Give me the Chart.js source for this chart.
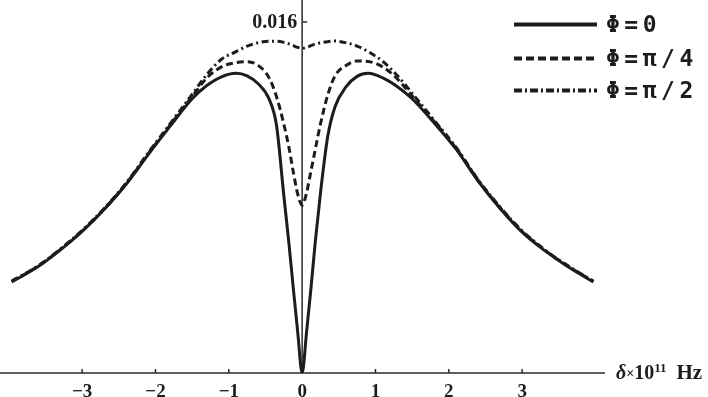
<!DOCTYPE html>
<html>
<head>
<meta charset="utf-8">
<script src="https://cdn.jsdelivr.net/npm/chart.js@4.4.1/dist/chart.umd.min.js"></script>
<style>
  html, body { margin: 0; padding: 0; background: #fff; }
  #wrap { width: 708px; height: 397px; position: relative; }
</style>
</head>
<body>
<div id="wrap"><canvas id="c" width="708" height="397"></canvas></div>
<script>
// ---- data ----
const deltaValues = [-3.96,-3.6,-3.3,-3.0,-2.7,-2.4,-2.1,-1.8,-1.5,-1.3,-1.1,-0.9,-0.75,-0.6,-0.45,-0.35,-0.25,-0.18,-0.12,-0.06,0,
                      0.06,0.12,0.18,0.25,0.35,0.45,0.6,0.75,0.9,1.1,1.3,1.5,1.8,2.1,2.4,2.7,3.0,3.3,3.6,3.97];
const phi0 = [0.00415,0.00485,0.00560,0.00645,0.00745,0.00860,0.00995,0.01125,0.01250,0.01310,0.01350,0.01366,0.01354,0.01318,0.01248,0.01130,0.00810,0.00590,0.00385,0.00185,0,
              0.00185,0.00385,0.00600,0.00820,0.01080,0.01215,0.01305,0.01352,0.01366,0.01345,0.01305,0.01250,0.01140,0.01020,0.00875,0.00750,0.00642,0.00560,0.00490,0.00415];
const phiQuarter = [0.00417,0.00487,0.00562,0.00647,0.00747,0.00863,0.00999,0.01130,0.01260,0.01345,0.01395,0.01415,0.01419,0.01402,0.01345,0.01260,0.01135,0.01028,0.00915,0.00815,0.00765,
                    0.00820,0.00920,0.01020,0.01135,0.01268,0.01355,0.01402,0.01422,0.01420,0.01395,0.01340,0.01262,0.01146,0.01024,0.00878,0.00753,0.00645,0.00562,0.00492,0.00417];
const phiHalf = [0.00419,0.00489,0.00564,0.00650,0.00750,0.00866,0.01003,0.01136,0.01270,0.01360,0.01430,0.01465,0.01490,0.01505,0.01512,0.01512,0.01507,0.01500,0.01492,0.01484,0.01480,
                 0.01484,0.01492,0.01500,0.01505,0.01510,0.01513,0.01505,0.01490,0.01465,0.01420,0.01355,0.01275,0.01152,0.01028,0.00881,0.00756,0.00648,0.00564,0.00494,0.00419];
const seriesLabels = ['Φ=0', 'Φ=π/4', 'Φ=π/2'];
const xTicks = [-3, -2, -1, 0, 1, 2, 3];
const yTicks = [0.016];

const INK = '#1c1c1c';
const dashes = [[], [7, 4], [7, 3.5, 2, 3.5]];
const legendDashes = [[], [8, 4], [8, 3, 2, 3]];

function pts(ys) { return deltaValues.map((d, i) => ({ x: d, y: ys[i] })); }

const axesPlugin = {
  id: 'customAxes',
  beforeDatasetsDraw(chart) {
    const { ctx, chartArea: a, scales: { x, y } } = chart;
    const x0 = x.getPixelForValue(0), y0 = y.getPixelForValue(0);
    ctx.save();
    ctx.strokeStyle = '#2a2a2a';
    ctx.lineWidth = 1.5;
    ctx.beginPath(); ctx.moveTo(a.left, y0); ctx.lineTo(a.right, y0); ctx.stroke();
    ctx.beginPath(); ctx.moveTo(x0, a.top); ctx.lineTo(x0, y0); ctx.stroke();
    ctx.fillStyle = INK;
    ctx.font = 'bold 19px "Liberation Serif"';
    ctx.textAlign = 'center';
    ctx.textBaseline = 'alphabetic';
    xTicks.forEach(t => {
      const px = x.getPixelForValue(t);
      if (t !== 0) { ctx.beginPath(); ctx.moveTo(px, y0); ctx.lineTo(px, y0 - 4); ctx.stroke(); }
      ctx.fillText(t < 0 ? '\u2212' + Math.abs(t) : String(t), px, y0 + 23.5);
    });
    ctx.font = 'bold 20px "Liberation Serif"';
    ctx.textAlign = 'right';
    yTicks.forEach(t => {
      const py = y.getPixelForValue(t);
      ctx.beginPath(); ctx.moveTo(x0, py); ctx.lineTo(x0 + 5, py); ctx.stroke();
      ctx.fillText(t.toFixed(3), x0 - 5, py + 6.5);
    });
    // axis title  δ×10^11 Hz
    ctx.textAlign = 'left';
    let tx = a.right + 11;
    const by = y0 + 6;
    const parts = [
      ['δ', 'italic bold 20px "Liberation Serif"', 0, 0],
      ['×', 'bold 14px "Liberation Serif"', -1, 0],
      ['10', 'bold 20px "Liberation Serif"', 0, 0],
      ['11', 'bold 13px "Liberation Serif"', -7, 10],
      ['Hz', 'bold 21px "Liberation Serif"', 0, 0]
    ];
    parts.forEach(([s, f, dy, gap]) => {
      ctx.font = f;
      ctx.fillText(s, tx, by + dy);
      tx += ctx.measureText(s).width + gap;
    });
    ctx.restore();
  },
  afterDraw(chart) {
    const { ctx, chartArea: a } = chart;
    ctx.save();
    const rows = [24.5, 58.5, 90.5];
    chart.data.datasets.forEach((ds, i) => {
      const yy = rows[i];
      ctx.strokeStyle = INK;
      ctx.lineWidth = 4;
      ctx.lineCap = 'butt';
      ctx.setLineDash(legendDashes[i]);
      ctx.beginPath(); ctx.moveTo(a.right - 91, yy); ctx.lineTo(a.right - 8, yy); ctx.stroke();
      ctx.setLineDash([]);
      ctx.fillStyle = INK;
      ctx.font = 'bold 23px "DejaVu Sans Mono"';
      ctx.letterSpacing = '4.5px';
      ctx.textAlign = 'left';
      ctx.textBaseline = 'middle';
      ctx.fillText(ds.label, a.right + 1, yy + 2);
    });
    ctx.restore();
  }
};

new Chart(document.getElementById('c'), {
  type: 'line',
  data: {
    datasets: [phi0, phiQuarter, phiHalf].map((ys, i) => ({
      label: seriesLabels[i],
      data: pts(ys),
      borderColor: INK,
      borderWidth: 3,
      borderDash: dashes[i],
      pointRadius: 0,
      fill: false,
      cubicInterpolationMode: 'monotone'
    }))
  },
  options: {
    responsive: false,
    animation: false,
    layout: { padding: { left: 0, top: 0, right: 103, bottom: 24 } },
    plugins: { legend: { display: false }, tooltip: { enabled: false } },
    scales: {
      x: { type: 'linear', min: -4.12, max: 4.13, display: false },
      y: { type: 'linear', min: 0, max: 0.017, display: false }
    }
  },
  plugins: [axesPlugin]
});
</script>
</body>
</html>
